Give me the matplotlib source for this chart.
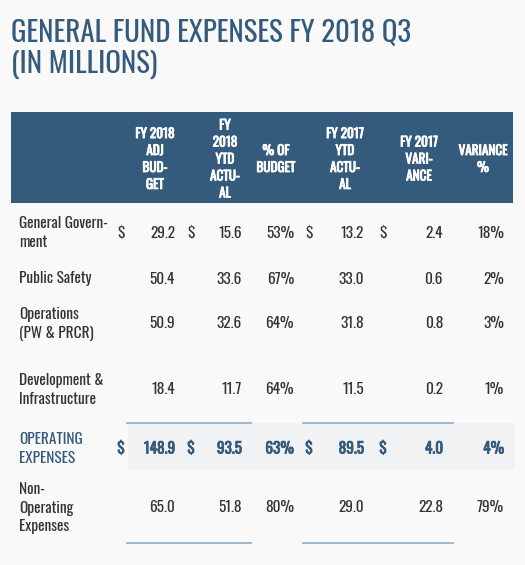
import matplotlib.pyplot as plt
import matplotlib.patheffects as pe
from matplotlib.patches import Rectangle

# table contents
title = "GENERAL FUND EXPENSES FY 2018 Q3\n(IN MILLIONS)"
headers = ["FY 2018\nADJ\nBUD-\nGET", "FY\n2018\nYTD\nACTU-\nAL", "% OF\nBUDGET",
           "FY 2017\nYTD\nACTU-\nAL", "FY 2017\nVARI-\nANCE", "VARIANCE\n%"]
categories = ["General Govern-\nment", "Public Safety", "Operations\n(PW & PRCR)",
              "Development &\nInfrastructure", "OPERATING\nEXPENSES",
              "Non-\nOperating\nExpenses"]
adj_budget = [29.2, 50.4, 50.9, 18.4, 148.9, 65.0]
ytd_2018 = [15.6, 33.6, 32.6, 11.7, 93.5, 51.8]
pct_budget = [53, 67, 64, 64, 63, 80]
ytd_2017 = [13.2, 33.0, 31.8, 11.5, 89.5, 29.0]
variance = [2.4, 0.6, 0.8, 0.2, 4.0, 22.8]
variance_pct = [18, 2, 3, 1, 4, 79]
dollar_rows = [0, 4]
total_row = 4

navy = '#345a7c'
bg = '#f9f9fa'
grey = '#333333'
rule = '#9cb1c8'
font = ['Oswald', 'DejaVu Sans']

fig = plt.figure(figsize=(5.25, 5.65), dpi=100, facecolor=bg)
ax = fig.add_axes([0, 0, 1, 1])
ax.set_xlim(0, 525)
ax.set_ylim(565, 0)
ax.axis('off')
ax.set_facecolor(bg)

ax.text(11, 49, title, fontsize=20.8, color=navy, family=font,
        va='center', ha='left', linespacing=1.14)

# header band
bold_white = [pe.withStroke(linewidth=0.6, foreground='white')]
ax.add_patch(Rectangle((11, 112), 502, 91, color=navy, lw=0))
head_x = [155, 225, 276, 345, 419, 483]
for x, h in zip(head_x, headers):
    ax.text(x, 159, h, fontsize=9.5, color='white', family=font,
            ha='center', va='center', linespacing=1.36, path_effects=bold_white)

# total row shading and rules
ax.add_patch(Rectangle((128, 423), 387, 47, color='#f1f2f4', lw=0))
for y in [423, 543]:
    ax.plot([127, 251], [y, y], color=rule, lw=1.3)
    ax.plot([303, 453], [y, y], color=rule, lw=1.3)

row_y = [233, 279, 324, 390, 449, 508]
dollar_x = [121, 191, 309, 383]
col_right = [175, 242, 294, 364, 443, 504]

for i, cat in enumerate(categories):
    y = row_y[i]
    total = i == total_row
    c = navy if total else grey
    fx = [pe.withStroke(linewidth=0.55, foreground=navy)] if total else None
    ax.text(19, y, cat, fontsize=11, color=c, family=font, ha='left', va='center',
            linespacing=1.3)
    vals = [f"{adj_budget[i]:.1f}", f"{ytd_2018[i]:.1f}", f"{pct_budget[i]}%",
            f"{ytd_2017[i]:.1f}", f"{variance[i]:.1f}", f"{variance_pct[i]}%"]
    for x, v in zip(col_right, vals):
        ax.text(x, y, v, fontsize=11, color=c, family=font,
                ha='right', va='center', path_effects=fx)
    if i in dollar_rows:
        for x in dollar_x:
            ax.text(x, y, '$', fontsize=11, color=c, family=font,
                    ha='center', va='center', path_effects=fx)

fig.savefig('out.png', dpi=100, facecolor=bg)
